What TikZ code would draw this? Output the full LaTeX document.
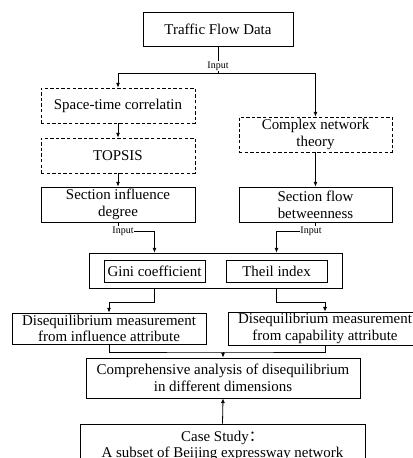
\documentclass[tikz,border=0pt]{standalone}
\usepackage{fontspec}
\setmainfont{Liberation Serif}
\newfontfamily\cjk{Noto Sans CJK SC}
\usetikzlibrary{arrows.meta}

\begin{document}
\begin{tikzpicture}[x=0.75pt, y=-0.75pt, line width=0.6pt,
  every node/.style={font=\fontsize{11.2}{12.5}\selectfont, align=center, inner sep=1pt},
  box/.style={draw, minimum width=#1, minimum height=26.25pt},
  dbox/.style={box=#1, dash pattern=on 2.6pt off 1.6pt},
  lbl/.style={font=\fontsize{7.5}{8}\selectfont, fill=white, inner sep=0.5pt},
  arr/.style={-{Latex[length=3.5pt, width=3pt]}}]
\useasboundingbox (0,0) rectangle (413,458);
\clip (0,0) rectangle (413,458);
\node[box=112.5pt, minimum height=25.5pt] (data) at (218,29) {Traffic Flow Data};
\node[dbox=115.5pt] (stc) at (118,105.5) {Space-time correlatin};
\node[dbox=115.5pt] (topsis) at (118,155.5) {TOPSIS};
\node[dbox=114.75pt] (cnt) at (315.5,134.5) {Complex network\\theory};
\node[box=115.5pt] (sid) at (118,204.5) {Section influence\\degree};
\node[box=114.75pt] (sfb) at (315.5,204.5) {Section flow\\betweenness};
\node[box=189.75pt] (big) at (215.5,270.5) {};
\node[box=75.75pt, minimum height=16.5pt] (gini) at (154.5,271) {Gini coefficient};
\node[box=75.75pt, minimum height=16.5pt] (theil) at (276.5,271) {Theil index};
\node[box=145.5pt, minimum height=23.25pt] (dl) at (109,328.5) {Disequilibrium measurement\\from influence attribute};
\node[box=145.5pt, minimum height=23.25pt] (dr) at (325,328.5) {Disequilibrium measurement\\from capability attribute};
\node[box=205.5pt, minimum height=30pt] (comp) at (223,378) {Comprehensive analysis of disequilibrium\\in different dimensions};
\node[box=213.75pt, minimum height=33pt] (case) at (222.5,446) {Case Study{\cjk ：}\\A subset of Beijing expressway network};

% top split
\coordinate (split) at (218,73);
\draw (data.south) -- (split);
\node[lbl] (in1) at (218,66) {Input};
\draw[arr] (split) -| (stc.north);
\draw[arr] (split) -| (cnt.north);
\draw[arr] (stc) -- (topsis);
\draw[arr] (topsis) -- (sid);
\draw[arr] (cnt) -- (sfb);

% inputs to indices
\draw[arr] (sid.south) -- (118,231) -- (154.5,231) -- (gini |- big.north);
\node[lbl] (in2) at (123,231) {Input};
\draw[arr] (sfb.south) -- (315.5,231) -- (276.5,231) -- (theil |- big.north);
\node[lbl] (in3) at (311,231) {Input};

% indices to measurements
\draw[arr] (gini |- big.south) -- (154.5,302) -| (dl.north);
\draw[arr] (theil |- big.south) -- (276.5,302) -| (dr.north);

% merge
\coordinate (mid) at (223,352);
\draw (dl.south) |- (mid) -| (dr.south);
\draw[arr] (mid) -- (comp.north);
\draw[arr] (case.north) -- (comp.south);
\end{tikzpicture}
\end{document}
